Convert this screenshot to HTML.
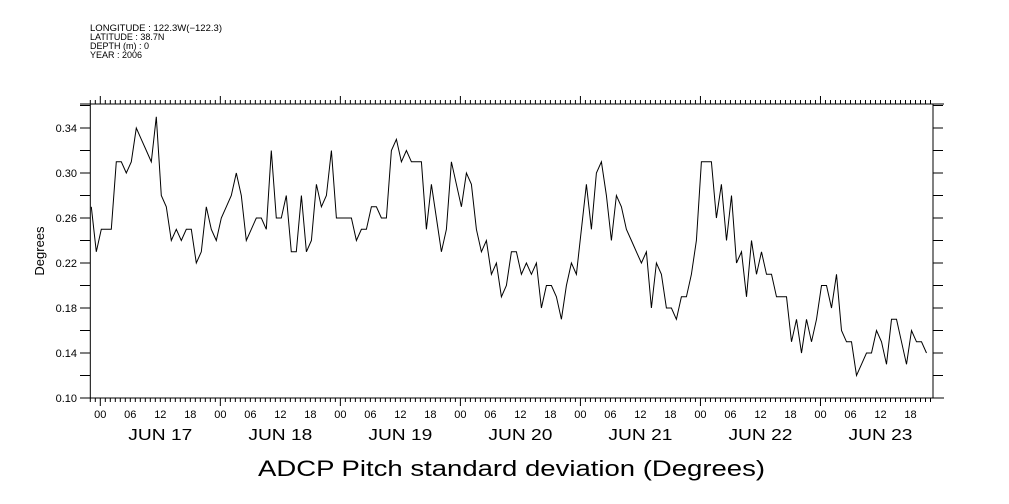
<!DOCTYPE html>
<html><head><meta charset="utf-8"><style>
body{margin:0;background:#fff;}
svg{display:block;font-family:"Liberation Sans",sans-serif;}
</style></head><body>
<svg id="chart" width="1009" height="504" viewBox="0 0 1009 504" xmlns="http://www.w3.org/2000/svg">
<g font-size="9" fill="#000">
<text x="90" y="31" textLength="132" lengthAdjust="spacingAndGlyphs">LONGITUDE : 122.3W(−122.3)</text>
<text x="90" y="40">LATITUDE : 38.7N</text>
<text x="90" y="49">DEPTH (m) : 0</text>
<text x="90" y="58">YEAR : 2006</text>
</g>
<text x="44" y="251" transform="rotate(-90 44 251)" text-anchor="middle" font-size="13">Degrees</text>
<text x="258" y="476" textLength="507" lengthAdjust="spacingAndGlyphs" font-size="22">ADCP Pitch standard deviation (Degrees)</text>
<g id="axes"></g>
<path id="series" fill="none" stroke="#000" stroke-width="1"/>
</svg>
<script>
const values = [0.27,0.23,0.25,0.25,0.25,0.31,0.31,0.30,0.31,0.34,0.33,0.32,0.31,0.35,0.28,0.27,0.24,0.25,0.24,0.25,0.25,0.22,0.23,0.27,0.25,0.24,0.26,0.27,0.28,0.30,0.28,0.24,0.25,0.26,0.26,0.25,0.32,0.26,0.26,0.28,0.23,0.23,0.28,
0.23,0.24,0.29,0.27,0.28,0.32,0.26,0.26,0.26,0.26,0.24,0.25,0.25,0.27,0.27,0.26,0.26,0.32,0.33,0.31,0.32,0.31,0.31,0.31,0.25,0.29,0.26,0.23,0.25,0.31,0.29,0.27,0.30,0.29,0.25,0.23,0.24,0.21,0.22,0.19,0.20,
0.23,0.23,0.21,0.22,0.21,0.22,0.18,0.20,0.20,0.19,0.17,0.20,0.22,0.21,0.25,0.29,0.25,0.30,0.31,0.28,0.24,0.28,0.27,0.25,0.24,0.23,0.22,0.23,0.18,0.22,0.21,0.18,0.18,0.17,0.19,0.19,0.21,0.24,0.31,0.31,0.31,
0.26,0.29,0.24,0.28,0.22,0.23,0.19,0.24,0.21,0.23,0.21,0.21,0.19,0.19,0.19,0.15,0.17,0.14,0.17,0.15,0.17,0.20,0.20,0.18,0.21,0.16,0.15,0.15,0.12,0.13,0.14,0.14,0.16,0.15,0.13,0.17,0.17,0.15,0.13,0.16,0.15,0.15,0.14];
const yTicks = [0.10,0.14,0.18,0.22,0.26,0.30,0.34];
const hourLabels = ["00","06","12","18"];
const dayLabels = ["JUN 17","JUN 18","JUN 19","JUN 20","JUN 21","JUN 22","JUN 23"];

const L=90.3, R=933, T=104, B=398;
const H0=0, H1=168.5;
const sx = h => L + (h-H0)/(H1-H0)*(R-L);
const sy = v => B - (v-0.10)/(0.34-0.10)*(B-128);
const NS="http://www.w3.org/2000/svg";
const g=document.getElementById('axes');
function mk(tag,attrs){const e=document.createElementNS(NS,tag);for(const k in attrs)e.setAttribute(k,attrs[k]);g.appendChild(e);return e;}
let d="";
d+=`M${L} ${T}H${R}V${B}H${L}Z M80 ${B}H944 M80 ${T}H944`;
for(let v=0.10;v<=0.3601;v+=0.02){const y=sy(v);d+=`M80 ${y}H${L}M${R} ${y}H943`;}
for(let h=0;h<=168;h++){const x=sx(h);const major=((h-2)%24===0);d+=`M${x} ${B}V${B+(major?8:4)}M${x} ${T}V${T-(major?8:4)}`;}
const ax=mk('path',{d:d,stroke:'#000','stroke-width':1,fill:'none'});


yTicks.forEach(v=>{const t=mk('text',{x:77,y:sy(v)+4,'text-anchor':'end','font-size':11});t.textContent=v.toFixed(2);

});
for(let day=0;day<7;day++){
 for(let i=0;i<4;i++){const h=2+day*24+i*6;const t=mk('text',{x:sx(h),y:418,'text-anchor':'middle','font-size':11});t.textContent=hourLabels[i];
 
 }
 const t=mk('text',{x:sx(14+day*24)-32,y:440,'font-size':16,textLength:64,lengthAdjust:'spacingAndGlyphs'});t.textContent=dayLabels[day];
 
 
}
const start=0.2;
document.getElementById('series').setAttribute('d',values.map((v,i)=>(i?'L':'M')+sx(start+i).toFixed(1)+' '+sy(v).toFixed(1)).join(''));
</script>
</body></html>
